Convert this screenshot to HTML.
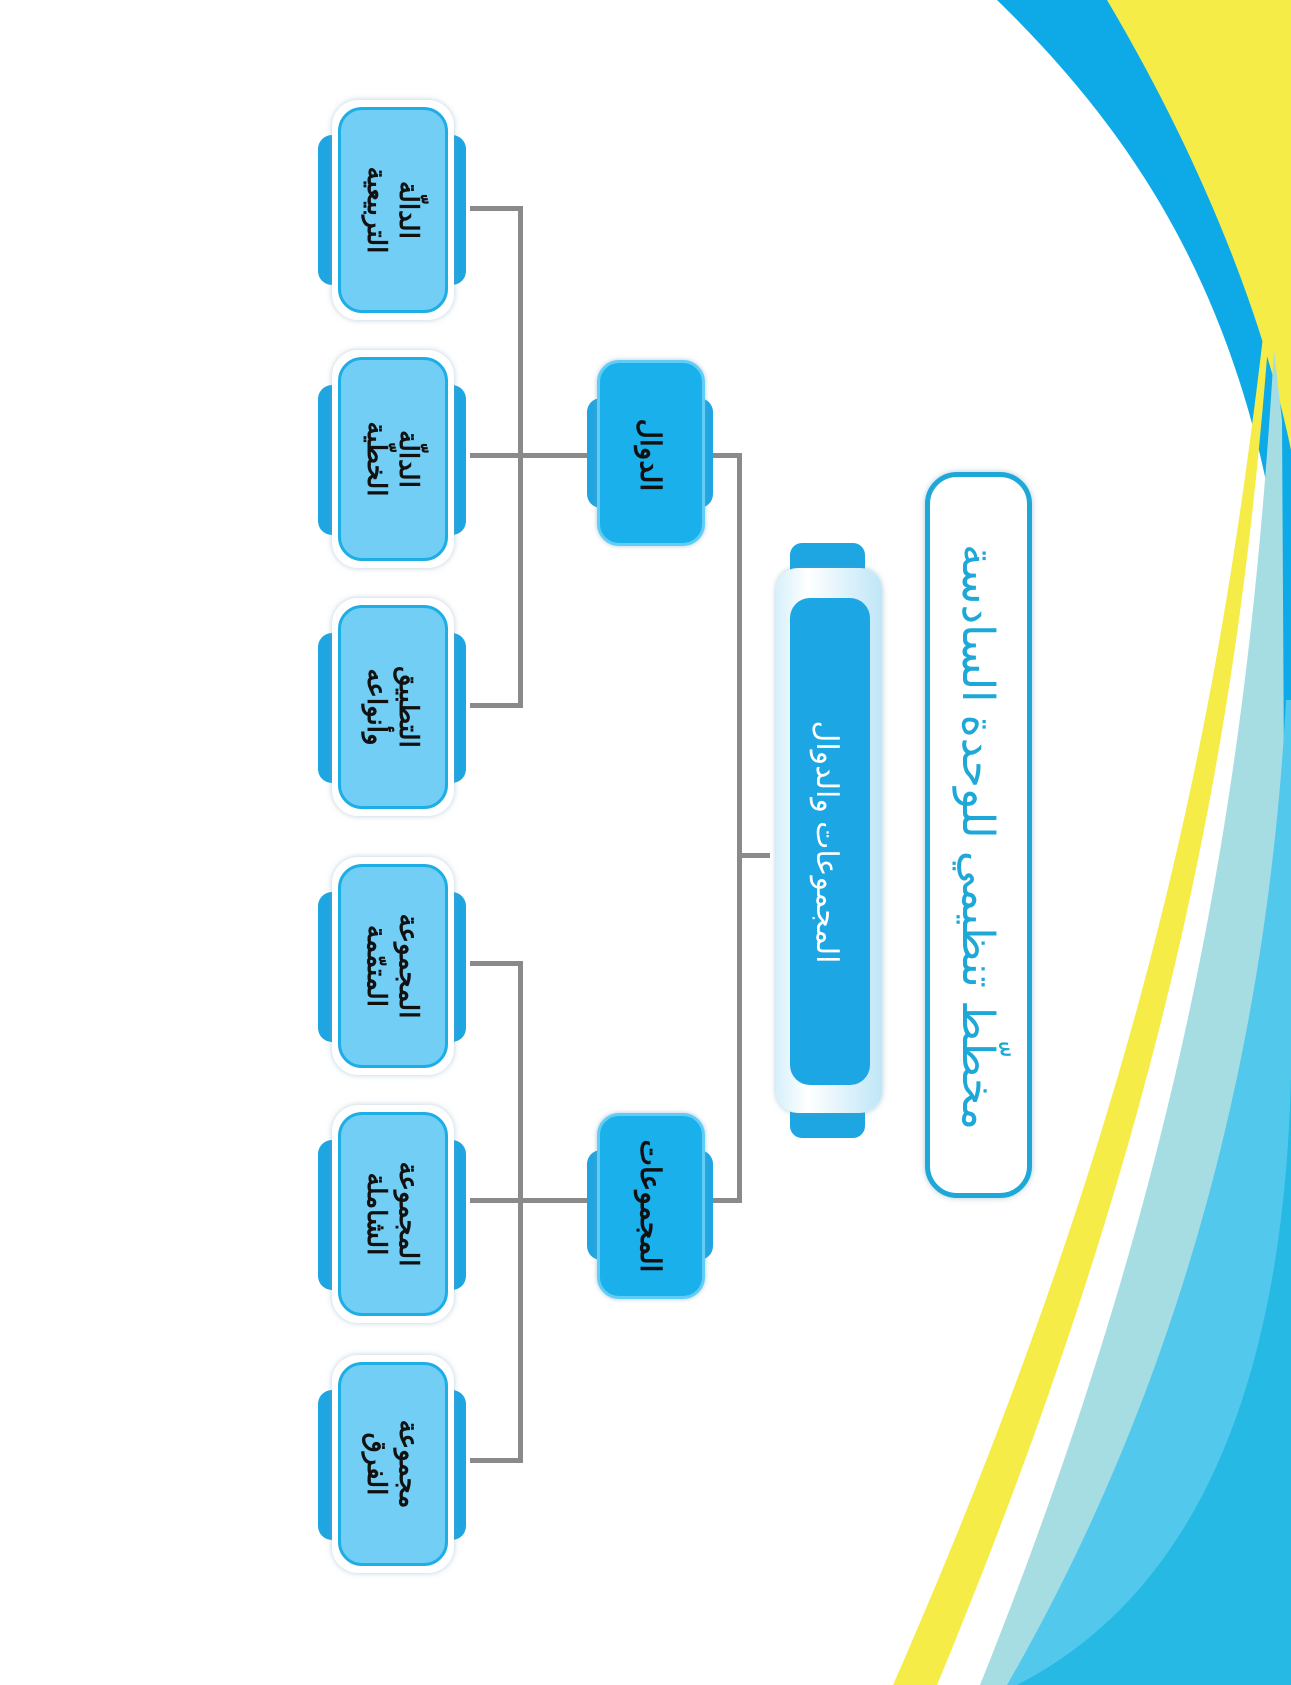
<!DOCTYPE html>
<html><head><meta charset="utf-8"><style>
html,body{margin:0;padding:0}
body{width:1291px;height:1685px;position:relative;overflow:hidden;background:#fff;font-family:"Liberation Sans","Noto Sans CJK SC",sans-serif}
.a{position:absolute}
.leafo{background:#fff;border-radius:26px;box-shadow:0 0 6px rgba(120,160,190,.5)}
.tab{background:#1ea6e2;border-radius:14px}
.leafi{background:#72cef4;border:3px solid #1eaee6;border-radius:24px;box-sizing:border-box}
.l2{background:#1ab0ec;border:3px solid #5fcdf5;border-radius:22px;box-sizing:border-box;box-shadow:0 0 5px rgba(120,160,190,.6)}
.rt{position:absolute;display:flex;align-items:center;justify-content:center;text-align:center;transform:rotate(90deg);direction:rtl;font-weight:bold;color:#111;line-height:1.25}
.ln{position:absolute;background:#8a8a8a}
</style></head><body>
<svg class="a" style="left:0;top:0" width="1291" height="1685">
<path d="M997,0 C1120,120 1240,280 1280,560 L1286,950 L1291,950 L1291,0Z" fill="#0eaae8"/>
<path d="M1107,0 C1190,140 1260,300 1291,450 L1291,0Z" fill="#f5ec48"/>
<path d="M1263,337 C1220,700 1150,1100 893,1685 L937,1685 C1180,1100 1240,700 1268,345Z" fill="#f5ec48"/>
<path d="M1274,350 C1250,750 1195,1150 980,1685 L1291,1685 L1291,950 L1285,950 L1282,420Z" fill="#a6dde2"/>
<path d="M1286,700 C1270,1000 1200,1350 1007,1685 L1291,1685 L1291,700Z" fill="#52c8ec"/>
<path d="M1291,1075 Q1280,1550 1017,1685 L1291,1685Z" fill="#25b9e3"/>
</svg>

<!-- title -->
<div class="a" style="left:925px;top:472px;width:107px;height:726px;border:5px solid #1ea8d8;border-radius:32px;box-sizing:border-box;background:#fff;box-shadow:0 0 6px rgba(100,150,180,.5)"></div>
<div class="rt" style="left:615px;top:812px;width:726px;height:50px;color:#1ea8d8;font-weight:normal;font-size:44px">مخطّط تنظيمي للوحدة السادسة</div>

<!-- main -->
<div class="a tab" style="left:790px;top:543px;width:75px;height:40px;border-radius:12px"></div>
<div class="a tab" style="left:790px;top:1098px;width:75px;height:40px;border-radius:12px"></div>
<div class="a" style="left:776px;top:568px;width:106px;height:545px;background:linear-gradient(90deg,#d6f0fb,#fff 30%,#bfe6f7);border-radius:22px;box-shadow:0 0 6px rgba(100,150,180,.5)"></div>
<div class="a" style="left:790px;top:598px;width:80px;height:487px;background:#1ca6e4;border-radius:20px"></div>
<div class="rt" style="left:586px;top:817px;width:480px;height:50px;color:#fff;font-weight:normal;font-size:30px">المجموعات والدوال</div>

<!-- connectors -->
<div class="ln" style="left:737px;top:453px;width:5px;height:750px"></div>
<div class="ln" style="left:708px;top:453px;width:34px;height:5px"></div>
<div class="ln" style="left:708px;top:1198px;width:34px;height:5px"></div>
<div class="ln" style="left:737px;top:853px;width:33px;height:5px"></div>

<div class="ln" style="left:518px;top:206px;width:5px;height:502px"></div>
<div class="ln" style="left:470px;top:206px;width:53px;height:5px"></div>
<div class="ln" style="left:470px;top:453px;width:120px;height:5px"></div>
<div class="ln" style="left:470px;top:703px;width:53px;height:5px"></div>
<div class="ln" style="left:518px;top:961px;width:5px;height:502px"></div>
<div class="ln" style="left:470px;top:961px;width:53px;height:5px"></div>
<div class="ln" style="left:470px;top:1198px;width:120px;height:5px"></div>
<div class="ln" style="left:470px;top:1458px;width:53px;height:5px"></div>

<!-- level 2 -->
<div class="a tab" style="left:587px;top:398px;width:126px;height:110px"></div>
<div class="a l2" style="left:597px;top:360px;width:108px;height:186px"></div>
<div class="rt" style="left:558px;top:433px;width:186px;height:44px;font-size:28px">الدوال</div>
<div class="a tab" style="left:587px;top:1150px;width:126px;height:110px"></div>
<div class="a l2" style="left:597px;top:1113px;width:108px;height:186px"></div>
<div class="rt" style="left:558px;top:1184px;width:186px;height:44px;font-size:28px">المجموعات</div>

<!-- leaves -->
<div class="a tab" style="left:318px;top:135px;width:148px;height:150px"></div>
<div class="a leafo" style="left:332px;top:100px;width:122px;height:220px"></div>
<div class="a leafi" style="left:338px;top:107px;width:110px;height:206px"></div>
<div class="rt" style="left:290px;top:180px;width:206px;height:60px;font-size:26px">الدالّة<br>التربيعية</div>

<div class="a tab" style="left:318px;top:385px;width:148px;height:150px"></div>
<div class="a leafo" style="left:332px;top:350px;width:122px;height:218px"></div>
<div class="a leafi" style="left:338px;top:357px;width:110px;height:204px"></div>
<div class="rt" style="left:290px;top:429px;width:206px;height:60px;font-size:26px">الدالّة<br>الخطّية</div>

<div class="a tab" style="left:318px;top:633px;width:148px;height:150px"></div>
<div class="a leafo" style="left:332px;top:598px;width:122px;height:218px"></div>
<div class="a leafi" style="left:338px;top:605px;width:110px;height:204px"></div>
<div class="rt" style="left:290px;top:677px;width:206px;height:60px;font-size:26px">التطبيق<br>وأنواعه</div>

<div class="a tab" style="left:318px;top:892px;width:148px;height:150px"></div>
<div class="a leafo" style="left:332px;top:857px;width:122px;height:218px"></div>
<div class="a leafi" style="left:338px;top:864px;width:110px;height:204px"></div>
<div class="rt" style="left:290px;top:936px;width:206px;height:60px;font-size:26px">المجموعة<br>المتمّمة</div>

<div class="a tab" style="left:318px;top:1140px;width:148px;height:150px"></div>
<div class="a leafo" style="left:332px;top:1105px;width:122px;height:218px"></div>
<div class="a leafi" style="left:338px;top:1112px;width:110px;height:204px"></div>
<div class="rt" style="left:290px;top:1184px;width:206px;height:60px;font-size:26px">المجموعة<br>الشاملة</div>

<div class="a tab" style="left:318px;top:1390px;width:148px;height:150px"></div>
<div class="a leafo" style="left:332px;top:1355px;width:122px;height:218px"></div>
<div class="a leafi" style="left:338px;top:1362px;width:110px;height:204px"></div>
<div class="rt" style="left:290px;top:1434px;width:206px;height:60px;font-size:26px">مجموعة<br>الفرق</div>
</body></html>
